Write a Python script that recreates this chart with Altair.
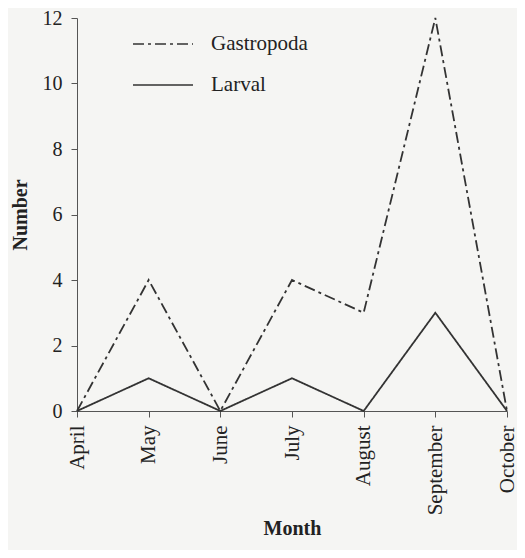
import altair as alt
import pandas as pd

months = ["April", "May", "June", "July", "August", "September", "October"]
gastropoda = [0, 4, 0, 4, 3, 12, 0]
larval = [0, 1, 0, 1, 0, 3, 0]
series = ["Gastropoda", "Larval"]

rows = []
for m, g, l in zip(months, gastropoda, larval):
    rows.append({"Month": m, "Number": g, "Series": "Gastropoda"})
    rows.append({"Month": m, "Number": l, "Series": "Larval"})
df = pd.DataFrame(rows)

font = "Liberation Serif"

chart = alt.Chart(df).mark_line(strokeWidth=1.8, color="#333333").encode(
    x=alt.X("Month:N", sort=months,
            scale=alt.Scale(type="point", padding=0),
            axis=alt.Axis(title="Month", labelAngle=-90, labelPadding=8,
                          labelFontSize=21, titlePadding=4)),
    y=alt.Y("Number:Q", scale=alt.Scale(domain=[0, 12]),
            axis=alt.Axis(title="Number", values=[0, 2, 4, 6, 8, 10, 12],
                          grid=False, labelPadding=9, titlePadding=12)),
    strokeDash=alt.StrokeDash(
        "Series:N",
        scale=alt.Scale(domain=series, range=[[11, 4, 3, 4], [1, 0]]),
        legend=alt.Legend(title=None, orient="none", legendX=55, legendY=-5,
                          symbolType="stroke", symbolSize=3600,
                          symbolStrokeWidth=1.7, symbolStrokeColor="#333333",
                          labelFont=font, labelFontSize=21, labelColor="#222",
                          labelOffset=17, rowPadding=-4),
    ),
).properties(
    width=430, height=393,
    background="#f5f5f3",
    padding={"left": 69, "top": 10, "right": 10, "bottom": 139},
    autosize=alt.AutoSizeParams(type="none"),
).configure_axis(
    labelFont=font, labelFontSize=20, labelColor="#222",
    titleFont=font, titleFontSize=20, titleFontWeight="bold", titleColor="#222",
    domainColor="#555", tickColor="#555", tickSize=6, grid=False,
).configure_view(stroke=None)

chart.save("out.html", embed_options={"renderer": "svg", "actions": False})
